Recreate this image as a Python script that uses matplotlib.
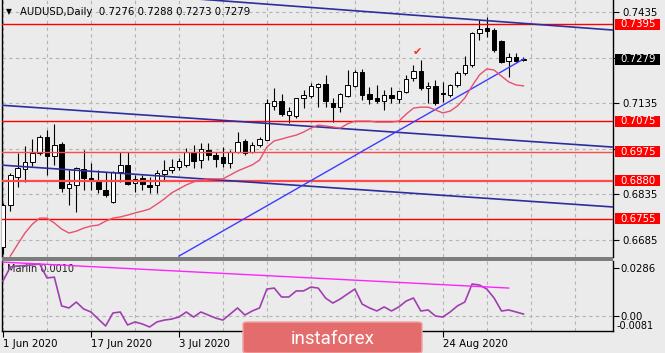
import numpy as np
import matplotlib.pyplot as plt
from matplotlib.patches import Rectangle, FancyBboxPatch
from matplotlib.transforms import blended_transform_factory

# --- data (daily bars, 1 Jun 2020 .. 8 Sep 2020) ---
opens = [0.6662, 0.6800, 0.6892, 0.6918, 0.6942, 0.6971, 0.7024, 0.6961, 0.7001, 0.6856,
         0.6866, 0.6918, 0.6889, 0.6882, 0.6849, 0.6810, 0.6909, 0.6932, 0.6872, 0.6889,
         0.6866, 0.6866, 0.6902, 0.6915, 0.6925, 0.6932, 0.6974, 0.6948, 0.6981, 0.6965,
         0.6958, 0.6938, 0.6974, 0.7011, 0.6974, 0.6997, 0.7014, 0.7126, 0.7142, 0.7096,
         0.7093, 0.7152, 0.7159, 0.7188, 0.7198, 0.7136, 0.7122, 0.7159, 0.7192, 0.7238,
         0.7165, 0.7152, 0.7142, 0.7162, 0.7149, 0.7172, 0.7218, 0.7241, 0.7185, 0.7192,
         0.7168, 0.7162, 0.7195, 0.7234, 0.7261, 0.7366, 0.7382, 0.7376, 0.7340, 0.7274,
         0.7287, 0.7276]
highs = [0.6807, 0.6905, 0.6971, 0.6994, 0.7017, 0.7030, 0.7047, 0.7067, 0.7007, 0.6915,
         0.6925, 0.6981, 0.6938, 0.6915, 0.6909, 0.6912, 0.6974, 0.6974, 0.6899, 0.6899,
         0.6892, 0.6915, 0.6948, 0.6951, 0.6955, 0.6988, 0.6997, 0.7004, 0.7004, 0.6974,
         0.6991, 0.6981, 0.7040, 0.7017, 0.7007, 0.7024, 0.7149, 0.7185, 0.7165, 0.7122,
         0.7152, 0.7178, 0.7201, 0.7201, 0.7228, 0.7152, 0.7168, 0.7244, 0.7244, 0.7248,
         0.7188, 0.7195, 0.7178, 0.7188, 0.7175, 0.7228, 0.7261, 0.7277, 0.7205, 0.7211,
         0.7205, 0.7198, 0.7241, 0.7290, 0.7369, 0.7409, 0.7419, 0.7382, 0.7343, 0.7300,
         0.7300, 0.7288]
lows = [0.6640, 0.6780, 0.6859, 0.6876, 0.6928, 0.6965, 0.6899, 0.6932, 0.6843, 0.6800,
        0.6777, 0.6849, 0.6849, 0.6840, 0.6826, 0.6807, 0.6876, 0.6866, 0.6843, 0.6849,
        0.6840, 0.6840, 0.6882, 0.6905, 0.6915, 0.6925, 0.6922, 0.6922, 0.6948, 0.6925,
        0.6925, 0.6922, 0.6971, 0.6965, 0.6971, 0.6991, 0.7014, 0.7113, 0.7093, 0.7070,
        0.7086, 0.7119, 0.7152, 0.7122, 0.7122, 0.7073, 0.7106, 0.7155, 0.7188, 0.7145,
        0.7132, 0.7136, 0.7113, 0.7136, 0.7136, 0.7168, 0.7208, 0.7178, 0.7136, 0.7129,
        0.7139, 0.7155, 0.7188, 0.7228, 0.7254, 0.7343, 0.7353, 0.7303, 0.7267, 0.7221,
        0.7271, 0.7273]
closes = [0.6800, 0.6899, 0.6922, 0.6942, 0.6971, 0.7024, 0.6961, 0.6997, 0.6856, 0.6869,
          0.6922, 0.6889, 0.6882, 0.6853, 0.6833, 0.6909, 0.6932, 0.6869, 0.6886, 0.6869,
          0.6859, 0.6905, 0.6915, 0.6925, 0.6945, 0.6974, 0.6945, 0.6984, 0.6965, 0.6951,
          0.6938, 0.6974, 0.7007, 0.6971, 0.6997, 0.7017, 0.7136, 0.7142, 0.7099, 0.7109,
          0.7152, 0.7162, 0.7192, 0.7198, 0.7142, 0.7122, 0.7165, 0.7195, 0.7238, 0.7162,
          0.7149, 0.7142, 0.7162, 0.7152, 0.7175, 0.7215, 0.7241, 0.7185, 0.7192, 0.7136,
          0.7165, 0.7195, 0.7234, 0.7261, 0.7366, 0.7379, 0.7373, 0.7310, 0.7271, 0.7287,
          0.7274, 0.7279]

# red moving average
ma = [np.nan, 0.6632, 0.6671, 0.6708, 0.6737, 0.6757, 0.6757, 0.6741, 0.6721, 0.6708,
      0.6714, 0.6724, 0.6731, 0.6734, 0.6747, 0.6757, 0.6761, 0.6767, 0.6774, 0.6780,
      0.6787, 0.6803, 0.6820, 0.6840, 0.6853, 0.6866, 0.6876, 0.6882, 0.6886, 0.6886,
      0.6886, 0.6899, 0.6912, 0.6922, 0.6932, 0.6948, 0.6991, 0.7011, 0.7017, 0.7024,
      0.7030, 0.7040, 0.7053, 0.7063, 0.7060, 0.7057, 0.7053, 0.7067, 0.7076, 0.7076,
      0.7076, 0.7073, 0.7073, 0.7073, 0.7076, 0.7099, 0.7119, 0.7122, 0.7122, 0.7113,
      0.7103, 0.7109, 0.7126, 0.7152, 0.7192, 0.7228, 0.7248, 0.7244, 0.7224, 0.7205,
      0.7195, 0.7192]

# Marlin oscillator
marlin = [0.0206, 0.0289, 0.0295, 0.0298, 0.0301, 0.0307, 0.0224, 0.0229, 0.0058, 0.0046,
          0.0081, 0.0040, 0.0022, -0.0020, -0.0061, 0.0016, 0.0022, -0.0055, -0.0037, -0.0049,
          -0.0067, -0.0037, -0.0026, -0.0020, -0.0008, 0.0022, -0.0008, 0.0022, 0.0004, -0.0014,
          -0.0026, 0.0010, 0.0046, 0.0004, 0.0028, 0.0046, 0.0158, 0.0164, 0.0111, 0.0111,
          0.0147, 0.0147, 0.0170, 0.0164, 0.0105, 0.0075, 0.0099, 0.0129, 0.0158, 0.0069,
          0.0046, 0.0028, 0.0052, 0.0028, 0.0052, 0.0087, 0.0105, 0.0028, 0.0034, -0.0002,
          -0.0008, 0.0022, 0.0058, 0.0081, 0.0188, 0.0182, 0.0158, 0.0105, 0.0028, 0.0034,
          0.0022, 0.0010]

levels = [0.7395, 0.7075, 0.6975, 0.6880, 0.6755]
price_ticks = [0.6685, 0.6835, 0.6985, 0.7135, 0.7285, 0.7435]
price_labels = ['0.6685', '0.6835', '', '0.7135', '', '0.7435']

# trend lines: (bar, price) pairs
chan_top = [(32, 0.7468), (83, 0.7376)]
chan_mid = [(0, 0.7128), (83, 0.6991)]
chan_low = [(0, 0.6931), (83, 0.6794)]
rise_line = [(24, 0.6632), (71, 0.7280)]
marlin_line = [(0, 0.0318), (69, 0.0164)]

# dates under the watermark are not visible, only their ticks
date_ticks = [0, 12, 24, 36, 48, 60]
date_labels = ['1 Jun 2020', '17 Jun 2020', '3 Jul 2020', '', '', '24 Aug 2020']

# --- figure layout (pixel based, 665x353) ---
W, H = 665, 353
BG = '#ebebeb'
GRID = dict(color='#b4b4b4', lw=0.8, ls=(0, (3, 3)))

def fx(px):
    return px / W

def fy(py):
    return 1 - py / H

fig = plt.figure(figsize=(W / 100, H / 100), dpi=100)
fig.patch.set_facecolor(BG)

ax = fig.add_axes([fx(2), fy(257), fx(613) - fx(2), fy(0) - fy(257)])
ax2 = fig.add_axes([fx(2), fy(331), fx(613) - fx(2), fy(261) - fy(331)])
XLIM = (-0.136, 83.22)

for a in (ax, ax2):
    a.set_facecolor(BG)
    a.set_xlim(*XLIM)
    for b in range(0, 84, 6):
        a.axvline(b, zorder=0, **GRID)
    a.yaxis.tick_right()
    a.spines['top'].set_visible(False)
    for s in ('left', 'right', 'bottom'):
        a.spines[s].set_color('black')
        a.spines[s].set_linewidth(1.0)
    a.tick_params(axis='y', length=4, width=0.8, labelsize=7.3, pad=2.5, colors='black')

# ---- main price panel ----
x = np.arange(len(opens))
o = np.array(opens); c = np.array(closes)
bull = c >= o
ax.vlines(x, lows, highs, color='black', lw=0.8, zorder=3)
ax.bar(x, np.maximum(np.abs(c - o), 0.00003), bottom=np.minimum(o, c), width=0.62,
       color=np.where(bull, 'white', 'black'), edgecolor='black', linewidth=0.7, zorder=4)

ax.set_ylim(0.66291, 0.74745)
ax.set_yticks(price_ticks)
ax.set_yticklabels(price_labels)
ax.grid(axis='y', zorder=0, **GRID)
ax.spines['bottom'].set_visible(False)
ax.tick_params(axis='x', bottom=False, labelbottom=False)

for lv in levels:
    lw = 1.6 if lv == 0.6880 else 1.0
    col = '#ff4a4a' if lv in (0.6880, 0.6975) else '#ff0000'
    ax.axhline(lv, color=col, lw=lw, zorder=5)

def seg(a, pts, **kw):
    (x0, y0), (x1, y1) = pts
    a.plot([x0, x1], [y0, y1], **kw)

def extend(pts, xa, xb):
    (x0, y0), (x1, y1) = pts
    k = (y1 - y0) / (x1 - x0)
    return [(xa, y0 + k * (xa - x0)), (xb, y0 + k * (xb - x0))]

for pts in (chan_top, chan_mid, chan_low):
    seg(ax, extend(pts, XLIM[0], XLIM[1]), color='#2d2d9e', lw=1.2, zorder=5, solid_capstyle='butt')
seg(ax, rise_line, color='#3c3cff', lw=1.0, zorder=5)
ax.plot(x, ma, color='#e8506e', lw=1.0, zorder=5)

ax.text(56.6, 0.7303, '\u2714', color='#ff2a2a', fontsize=8, ha='center', va='center', zorder=6)

# price label boxes on the right scale
tb = blended_transform_factory(ax.transAxes, ax.transData)
box_x0 = (615 - 2) / 611
box_w = (660 - 615) / 611
half = 5.5 / 3040
for lv in levels + [closes[-1]]:
    fc = 'black' if lv == closes[-1] else '#ff0000'
    ax.add_patch(Rectangle((box_x0, lv - half), box_w, 2 * half, transform=tb,
                           facecolor=fc, edgecolor='none', clip_on=False, zorder=7))
    ax.text((620 - 2) / 611, lv, f'{lv:.4f}', transform=tb, color='white', fontsize=7.3,
            ha='left', va='center', clip_on=False, zorder=8)

# ---- Marlin panel ----
ax2.plot(x, marlin, color='#a040b0', lw=1.2, zorder=4)
seg(ax2, marlin_line, color='#ff22ff', lw=1.0, zorder=4)
ax2.set_ylim(-0.00908, 0.03246)
ax2.set_yticks([0.0286, 0.0])
ax2.set_yticklabels(['0.0286', '0.00'])
ax2.tick_params(axis='y', pad=1.5)
ax2.axhline(0.0, zorder=0, **GRID)
ax2.text(1.006, -0.0093, '-0.0081', transform=blended_transform_factory(ax2.transAxes, ax2.transData),
         fontsize=7.0, ha='left', va='bottom', clip_on=False)
ax2.text(0.008, 0.95, f'Marlin {marlin[-1]:.4f}', transform=ax2.transAxes, fontsize=7,
         ha='left', va='top', color='#202020')

ax2.set_xticks(date_ticks)
ax2.set_xticklabels(date_labels)
ax2.tick_params(axis='x', length=4, width=0.8, labelsize=7.4, pad=1.5, colors='black')
for lab in ax2.get_xticklabels():
    lab.set_ha('left')

# separator between panels
fig.add_artist(Rectangle((fx(2), fy(261)), fx(613) - fx(2), fy(257) - fy(261),
                         transform=fig.transFigure, facecolor='#7d7d7d', edgecolor='none'))

# header
fig.text(fx(5.5), fy(11.5), '\u25bc', fontsize=5.5, ha='left', va='center')
fig.text(fx(20), fy(12), f'AUDUSD,Daily  {opens[-1]:.4f} {highs[-1]:.4f} {lows[-1]:.4f} {closes[-1]:.4f}',
         fontsize=7.3, ha='left', va='center')

# watermark
fig.add_artist(FancyBboxPatch((fx(243), fy(353)), fx(422) - fx(243), fy(322) - fy(353),
                              boxstyle='round,pad=0,rounding_size=0.006', transform=fig.transFigure,
                              facecolor='#e46c6c', edgecolor='#f2a3a3', lw=1.0, zorder=10))
fig.text(fx(332.5), fy(343.5), 'instaforex', family='Roboto', fontsize=13.5, color='white',
         ha='center', va='baseline', zorder=11)

fig.savefig('out.png', dpi=100, facecolor=BG)
